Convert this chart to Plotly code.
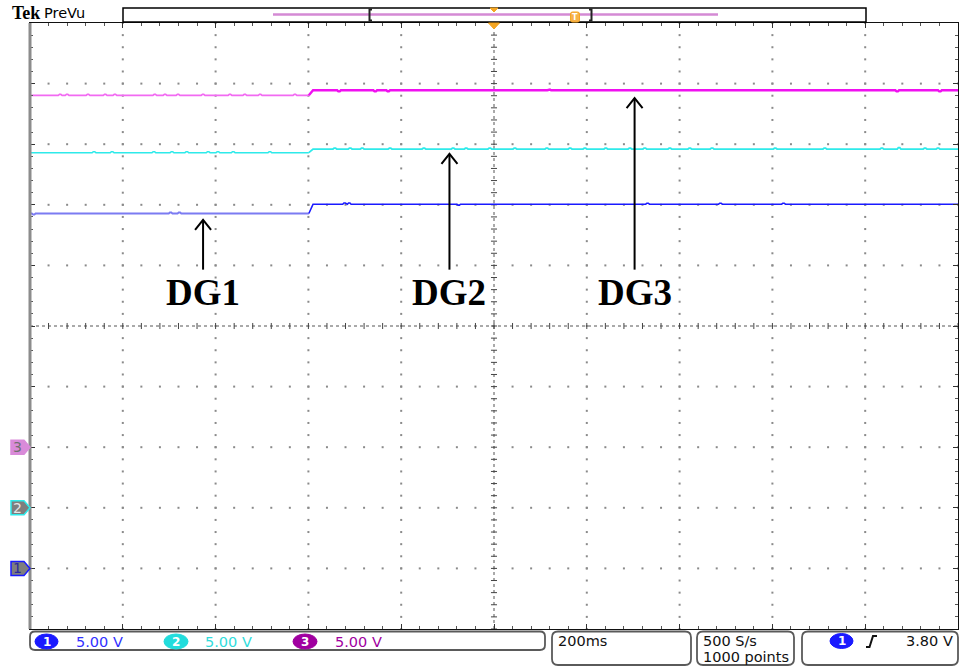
import plotly.graph_objects as go

TIME_RANGE = [-1.0, 1.0]          # s, 200 ms/div, 10 divisions
VOLTS_PER_DIV = 5.0
STEP_TIME = -0.399                # s, instant of the load step

CH1_OFFSET_DIV = -4               # ground markers
CH2_OFFSET_DIV = -3
CH3_OFFSET_DIV = -2

CH1_LEVELS = [29.28, 30.05]       # V before / after the step (DG1, blue)
CH2_LEVELS = [29.30, 29.60]       # V (DG2, cyan)
CH3_LEVELS = [29.03, 29.45]       # V (DG3, magenta)

CH1_BLIP_T = [-0.992, -0.697, -0.678, -0.447, -0.322, -0.312, -0.076, 0.331, 0.488, 0.624, 0.873, 0.988]
CH1_BLIP_DV = [-0.08, 0.08, 0.08, 0.06, 0.10, 0.10, -0.08, 0.08, 0.08, 0.08, -0.05, -0.06]

CH2_BLIP_T = [-0.862, -0.823, -0.733, -0.694, -0.662, -0.616, -0.595, -0.562, -0.483,
              -0.343, -0.310, -0.284, -0.224, -0.151, -0.088, -0.060, -0.009, 0.045, 0.114,
              0.164, 0.196, 0.241, 0.293, 0.325, 0.379, 0.422, 0.470, 0.606, 0.713, 0.836,
              0.873, 0.929, 0.957]
CH2_BLIP_DV = [0.08, 0.08, 0.08, 0.08, 0.08, 0.08, 0.08, 0.08, 0.08,
               0.08, 0.08, 0.07, 0.07, 0.07, 0.07, 0.07, 0.08, 0.07, 0.07,
               0.07, 0.07, 0.07, 0.07, 0.08, 0.07, 0.07, 0.08, 0.07, 0.08, 0.07,
               0.12, 0.07, 0.07]

CH3_BLIP_T = [-0.935, -0.920, -0.875, -0.838, -0.817, -0.731, -0.709, -0.681, -0.627,
              -0.569, -0.537, -0.504, -0.429, -0.334, -0.256, -0.228, 0.119, 0.239, 0.869, 0.961]
CH3_BLIP_DV = [0.08, 0.08, 0.08, 0.08, 0.08, 0.08, 0.08, 0.08, 0.08,
               0.08, 0.08, 0.08, 0.08, -0.09, -0.09, -0.08, 0.06, 0.06, -0.09, -0.09]

CH_LABELS = ["DG1", "DG2", "DG3"]
LABEL_T = [-0.627, -0.096, 0.303]          # s
ARROW_TIP_DIV = [1.75, 2.84, 3.76]
ARROW_BASE_DIV = 0.93
LABEL_DIV = 0.55

SCALE_TEXT = ["5.00 V", "5.00 V", "5.00 V"]
TIMEBASE_TEXT = "200ms"
RATE_TEXT = ["500 S/s", "1000 points"]
TRIG_TEXT = "3.80 V"

# ---------------- geometry helpers ----------------
W, H = 961, 666
ML, MR, MT, MB = 30, 3, 23, 37
PW = W - ML - MR
PH = H - MT - MB


def pxx(px):
    return (px - ML) / PW


def pyy(py):
    return (H - MB - py) / PH


C_BLUE = "#1a1aff"
C_BLUE_LIGHT = "#7b7bf2"
C_CYAN = "#2eeaea"
C_MAG = "#f010f0"
C_MAG_LIGHT = "#f26af2"
C_PURPLE = "#a000a0"
C_ORANGE = "#f5a623"


def build(levels, offset, blips_t, blips_dv):
    pts = [(TIME_RANGE[0], levels[0]), (STEP_TIME, levels[0]),
           (STEP_TIME + 0.009, levels[1]), (TIME_RANGE[1], levels[1])]
    for t, dv in zip(blips_t, blips_dv):
        base = levels[0] if t < STEP_TIME else levels[1]
        pts += [(t - 0.004, base), (t - 0.0015, base + dv), (t + 0.0015, base + dv), (t + 0.004, base)]
    pts.sort()
    before = [(t, offset + v / VOLTS_PER_DIV) for t, v in pts if t <= STEP_TIME]
    after = [(t, offset + v / VOLTS_PER_DIV) for t, v in pts if t >= STEP_TIME]
    return before, after


fig = go.Figure()

# ---------------- graticule dots ----------------
gx, gy = [], []
for i in range(1, 10):
    if i == 5:
        continue
    xm = -1.0 + 0.2 * i
    for k in range(51):
        gx.append(xm)
        gy.append(-5 + 0.2 * k)
for j in range(1, 10):
    if j == 5:
        continue
    ym = -5 + j
    for k in range(51):
        gx.append(-1.0 + 0.04 * k)
        gy.append(ym)
fig.add_trace(go.Scatter(x=gx, y=gy, mode="markers", hoverinfo="skip",
                         marker=dict(symbol="square", size=2, color="#8a8a8a", line=dict(width=0))))

# center cross ticks
tx, ty = [], []
for k in range(51):
    y = -5 + 0.2 * k
    tx += [-0.0065, 0.0065, None]
    ty += [y, y, None]
    x = -1.0 + 0.04 * k
    tx += [x, x, None]
    ty += [-0.05, 0.05, None]
fig.add_trace(go.Scatter(x=tx, y=ty, mode="lines", hoverinfo="skip",
                         line=dict(color="#444444", width=1)))

# ---------------- traces ----------------
for levels, off, bt, bdv, c_before, w_before, c_after, w_after in [
    (CH3_LEVELS, CH3_OFFSET_DIV, CH3_BLIP_T, CH3_BLIP_DV, C_MAG_LIGHT, 1.6, C_MAG, 2.4),
    (CH2_LEVELS, CH2_OFFSET_DIV, CH2_BLIP_T, CH2_BLIP_DV, C_CYAN, 1.5, C_CYAN, 1.8),
    (CH1_LEVELS, CH1_OFFSET_DIV, CH1_BLIP_T, CH1_BLIP_DV, C_BLUE_LIGHT, 2.0, C_BLUE, 1.6),
]:
    b, a = build(levels, off, bt, bdv)
    fig.add_trace(go.Scatter(x=[p[0] for p in b], y=[p[1] for p in b], mode="lines",
                             hoverinfo="skip", line=dict(color=c_before, width=w_before)))
    fig.add_trace(go.Scatter(x=[p[0] for p in a], y=[p[1] for p in a], mode="lines",
                             hoverinfo="skip", line=dict(color=c_after, width=w_after)))

# ---------------- arrows ----------------
ax, ay = [], []
hx = 8 / (PW / (TIME_RANGE[1] - TIME_RANGE[0]))
hy = 10 / (PH / 10)
for t, tip in zip(LABEL_T, ARROW_TIP_DIV):
    ax += [t, t, None, t - hx, t, t + hx, None]
    ay += [ARROW_BASE_DIV, tip, None, tip - hy, tip, tip - hy, None]
fig.add_trace(go.Scatter(x=ax, y=ay, mode="lines", hoverinfo="skip",
                         line=dict(color="black", width=2)))

annotations = []
for lab, t in zip(CH_LABELS, LABEL_T):
    annotations.append(dict(x=t, y=LABEL_DIV, xref="x", yref="y", text="<b>%s</b>" % lab,
                            showarrow=False, xanchor="center", yanchor="middle",
                            font=dict(family="Liberation Serif", size=37, color="black")))

shapes = []
# center lines
shapes.append(dict(type="line", xref="x", yref="y", x0=0, x1=0, y0=-5, y1=5,
                   line=dict(color="#555555", width=1, dash="dot"), layer="below"))
shapes.append(dict(type="line", xref="x", yref="y", x0=-1, x1=1, y0=0, y1=0,
                   line=dict(color="#555555", width=1, dash="dot"), layer="below"))
# left border grey
shapes.append(dict(type="line", xref="paper", yref="paper", x0=pxx(30), x1=pxx(30), y0=0, y1=1,
                   line=dict(color="#8c8c8c", width=3)))


def rrect(x0, y0, x1, y1, r, color, width, fill="rgba(0,0,0,0)"):
    p = ("M %f,%f L %f,%f Q %f,%f %f,%f L %f,%f Q %f,%f %f,%f L %f,%f Q %f,%f %f,%f "
         "L %f,%f Q %f,%f %f,%f Z") % (
        pxx(x0 + r), pyy(y0), pxx(x1 - r), pyy(y0), pxx(x1), pyy(y0), pxx(x1), pyy(y0 + r),
        pxx(x1), pyy(y1 - r), pxx(x1), pyy(y1), pxx(x1 - r), pyy(y1),
        pxx(x0 + r), pyy(y1), pxx(x0), pyy(y1), pxx(x0), pyy(y1 - r),
        pxx(x0), pyy(y0 + r), pxx(x0), pyy(y0), pxx(x0 + r), pyy(y0))
    return dict(type="path", xref="paper", yref="paper", path=p,
                line=dict(color=color, width=width), fillcolor=fill)


def poly(pts, color, fill, width=1):
    p = "M " + " L ".join("%f,%f" % (pxx(x), pyy(y)) for x, y in pts) + " Z"
    return dict(type="path", xref="paper", yref="paper", path=p,
                line=dict(color=color, width=width), fillcolor=fill)


def seg(pts, color, width):
    p = "M " + " L ".join("%f,%f" % (pxx(x), pyy(y)) for x, y in pts)
    return dict(type="path", xref="paper", yref="paper", path=p,
                line=dict(color=color, width=width))


def txt(s, px, py, size, color="black", xanchor="left", family="DejaVu Sans"):
    annotations.append(dict(x=pxx(px), y=pyy(py), xref="paper", yref="paper", text=s,
                            showarrow=False, xanchor=xanchor, yanchor="middle",
                            font=dict(family=family, size=size, color=color)))


# ground markers on the left
for off, fill, edge, num, ncol in [(CH3_OFFSET_DIV, "#d98bd9", "#d98bd9", "3", "#707070"),
                                   (CH2_OFFSET_DIV, "#7e7e7e", C_CYAN, "2", "#e6e6e6"),
                                   (CH1_OFFSET_DIV, "#7e7e7e", C_BLUE, "1", "#2a2a9a")]:
    yc = 326 + (-off) * 60.6
    shapes.append(poly([(11, yc - 7), (24, yc - 7), (30, yc), (24, yc + 7), (11, yc + 7)], edge, fill, 1.5))
    txt(num, 17.5, yc, 14, ncol, "center")

# header
txt("<b>Tek</b>", 10, 13, 18, "black", "left", "Liberation Serif")
txt("PreVu", 42, 13, 14.5, "black", "left")
shapes.append(dict(type="rect", xref="paper", yref="paper", x0=pxx(123), x1=pxx(866),
                   y0=pyy(22), y1=pyy(8), line=dict(color="black", width=1.5)))
shapes.append(seg([(273, 14.5), (718, 14.5)], "#d48ad4", 2.5))
shapes.append(seg([(372, 9.5), (369.5, 9.5), (369.5, 20.5), (372, 20.5)], "#222222", 2))
shapes.append(seg([(589, 9.5), (591.5, 9.5), (591.5, 20.5), (589, 20.5)], "#222222", 2))
shapes.append(poly([(490, 8), (498, 8), (494, 12)], C_ORANGE, C_ORANGE))
shapes.append(poly([(488.5, 23), (499.5, 23), (494, 29)], C_ORANGE, C_ORANGE))
shapes.append(rrect(570.5, 12, 579.5, 22, 2, C_ORANGE, 1, "#f7b24a"))
txt("<b>T</b>", 575, 17.5, 8, "white", "center")

# status bar
shapes.append(rrect(30, 631.5, 545, 650, 5, "#5a5a5a", 1.8))
shapes.append(rrect(552, 631.5, 691, 665, 6, "#5a5a5a", 1.8))
shapes.append(rrect(697, 631.5, 794, 665, 6, "#5a5a5a", 1.8))
shapes.append(rrect(802, 631.5, 958, 665, 6, "#5a5a5a", 1.8))
for (x0, x1), col, num, s, tx0 in [((35, 58), C_BLUE, "1", SCALE_TEXT[0], 74),
                                   ((164, 188), "#22dcdc", "2", SCALE_TEXT[1], 203),
                                   ((293, 317), C_PURPLE, "3", SCALE_TEXT[2], 333)]:
    shapes.append(dict(type="circle", xref="paper", yref="paper", x0=pxx(x0), x1=pxx(x1),
                       y0=pyy(649), y1=pyy(634), fillcolor=col, line=dict(color=col, width=1)))
    txt("<b>%s</b>" % num, (x0 + x1) / 2, 641.5, 12, "white", "center")
    txt(s, tx0, 641.5, 14.5, "#3030ff" if num == "1" else ("#30dcdc" if num == "2" else C_PURPLE))
txt(TIMEBASE_TEXT, 556, 641, 14.5, "#111111")
txt(RATE_TEXT[0], 701, 641, 14.5, "#111111")
txt(RATE_TEXT[1], 701, 657, 14.5, "#111111")
shapes.append(dict(type="circle", xref="paper", yref="paper", x0=pxx(830), x1=pxx(853),
                   y0=pyy(648.5), y1=pyy(633.5), fillcolor=C_BLUE, line=dict(color=C_BLUE, width=1)))
txt("<b>1</b>", 841.5, 641, 12, "white", "center")
shapes.append(seg([(866, 647), (869.5, 647), (873, 636), (877, 636)], "#111111", 2))
txt(TRIG_TEXT, 955, 641, 14.5, "#111111", "right")

axis_common = dict(showgrid=False, zeroline=False, showticklabels=False, showline=True,
                   linecolor="#111111", linewidth=1, mirror="ticks", ticks="inside",
                   tickcolor="#333333", fixedrange=True)
fig.update_layout(
    width=W, height=H,
    margin=dict(l=ML, r=MR, t=MT, b=MB),
    paper_bgcolor="white", plot_bgcolor="white",
    showlegend=False,
    xaxis=dict(range=TIME_RANGE, tick0=-1.0, dtick=0.2, ticklen=5,
               minor=dict(ticks="inside", dtick=0.04, ticklen=3, tickcolor="#555555"),
               **axis_common),
    yaxis=dict(range=[-5, 5], tick0=-5, dtick=1, ticklen=5,
               minor=dict(ticks="inside", dtick=0.2, ticklen=3, tickcolor="#555555"),
               **axis_common),
    shapes=shapes,
    annotations=annotations,
)

fig.write_html("out.html")
